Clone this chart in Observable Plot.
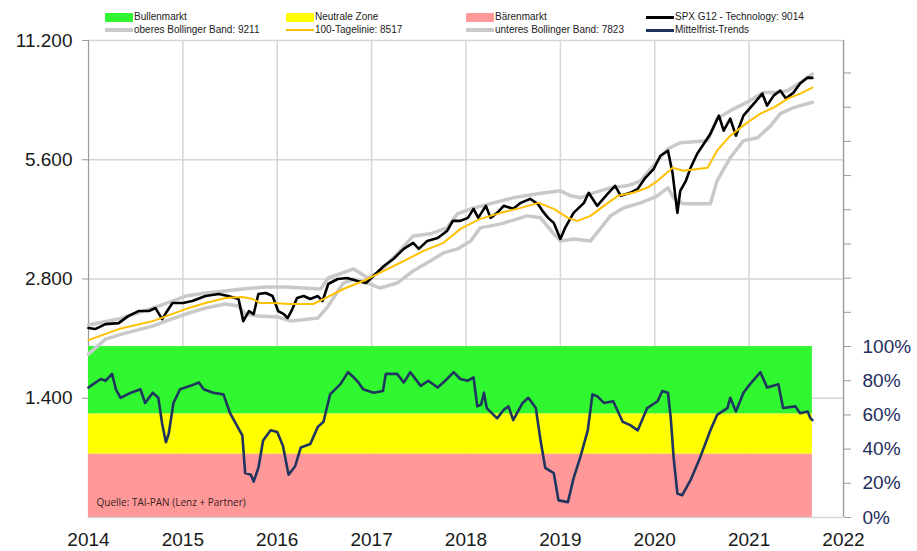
<!DOCTYPE html>
<html>
<head>
<meta charset="utf-8">
<script src="https://cdn.jsdelivr.net/npm/d3@7"></script>
<script src="https://cdn.jsdelivr.net/npm/@observablehq/plot@0.6"></script>
<style>
  body { margin: 0; background: #fff; }
  #wrap { position: relative; width: 917px; height: 551px; overflow: hidden; font-family: "Liberation Sans", Arial, sans-serif; }
  .layer { position: absolute; left: 0; top: 0; }
  .layer svg { background: transparent !important; }
  .leg { position: absolute; font-size: 10px; color: #222; white-space: nowrap; line-height: 12px; }
  .sw { position: absolute; }
</style>
</head>
<body>
<div id="wrap"></div>
<script>
// ---------- data ----------
const years = [2014, 2015, 2016, 2017, 2018, 2019, 2020, 2021, 2022];
const priceTicks = [1400, 2800, 5600, 11200];
const pctTicks = [0, 20, 40, 60, 80, 100, 120, 140, 160, 180, 200, 220, 240, 260];

// SPX G12 - Technology (decimal year, index value)
const priceT = [2014.00,2014.07,2014.18,2014.32,2014.42,2014.53,2014.64,2014.71,2014.78,2014.82,2014.89,2015.00,2015.10,2015.24,2015.38,2015.48,2015.59,2015.64,2015.70,2015.75,2015.80,2015.88,2015.95,2016.01,2016.07,2016.11,2016.16,2016.21,2016.28,2016.35,2016.43,2016.48,2016.54,2016.64,2016.74,2016.85,2016.94,2017.02,2017.13,2017.23,2017.34,2017.44,2017.50,2017.59,2017.70,2017.80,2017.86,2017.94,2018.02,2018.08,2018.13,2018.21,2018.26,2018.33,2018.40,2018.50,2018.58,2018.68,2018.76,2018.81,2018.87,2018.93,2019.00,2019.05,2019.14,2019.25,2019.30,2019.39,2019.50,2019.58,2019.64,2019.74,2019.82,2019.90,2019.99,2020.06,2020.14,2020.19,2020.22,2020.24,2020.27,2020.33,2020.38,2020.45,2020.52,2020.59,2020.68,2020.73,2020.80,2020.86,2020.94,2021.05,2021.14,2021.19,2021.26,2021.33,2021.39,2021.47,2021.54,2021.62,2021.67];
const priceV = [2105,2093,2154,2167,2257,2324,2324,2365,2218,2297,2435,2435,2463,2536,2566,2536,2492,2192,2324,2284,2566,2581,2536,2324,2284,2231,2351,2507,2536,2492,2536,2463,2720,2800,2816,2767,2735,2849,3020,3146,3335,3453,3335,3494,3555,3703,3925,3925,3995,4210,3995,4284,3995,4113,4284,4210,4359,4462,4334,4161,3995,3880,3535,3769,4113,4359,4621,4284,4594,4813,4541,4621,4730,5043,5314,5732,5902,5161,4488,4113,4675,4955,5345,5800,6147,6516,7236,6631,7111,6440,7236,7760,8225,7670,8130,8371,7990,8273,8719,9028,9014];

// oberes Bollinger Band
const upperT = [2014.00,2014.32,2014.68,2014.89,2015.03,2015.24,2015.45,2015.63,2015.74,2015.88,2016.09,2016.46,2016.54,2016.81,2016.96,2017.09,2017.27,2017.44,2017.62,2017.80,2017.91,2018.05,2018.29,2018.50,2018.76,2019.00,2019.11,2019.21,2019.35,2019.53,2019.71,2019.85,2020.03,2020.14,2020.27,2020.56,2020.66,2020.80,2021.01,2021.15,2021.30,2021.41,2021.54,2021.67];
const upperV = [2142,2218,2365,2463,2536,2581,2611,2642,2657,2672,2672,2642,2816,2968,2816,2933,3239,3597,3640,3769,4089,4210,4359,4488,4594,4675,4541,4488,4621,4757,4813,4955,5568,5971,6183,6256,7111,7450,7897,8273,8273,8371,8769,9211];

// 100-Tagelinie
const maT = [2014.00,2014.32,2014.68,2015.03,2015.24,2015.45,2015.63,2015.74,2015.82,2015.95,2016.14,2016.38,2016.49,2016.70,2016.91,2017.06,2017.34,2017.55,2017.76,2017.94,2018.15,2018.37,2018.58,2018.77,2018.93,2019.08,2019.18,2019.32,2019.46,2019.61,2019.77,2019.92,2020.03,2020.19,2020.30,2020.56,2020.66,2020.80,2020.98,2021.12,2021.26,2021.41,2021.54,2021.67];
const maV = [1963,2093,2192,2351,2435,2507,2521,2492,2435,2435,2421,2421,2492,2642,2767,2882,3109,3296,3453,3747,3971,4113,4234,4359,4210,3995,3925,4041,4284,4541,4621,4757,4955,5345,5252,5345,5902,6440,6947,7321,7581,7990,8225,8517];

// unteres Bollinger Band
const lowerT = [2014.00,2014.18,2014.39,2014.68,2014.82,2015.03,2015.24,2015.45,2015.59,2015.66,2015.80,2016.01,2016.14,2016.43,2016.54,2016.70,2016.81,2016.96,2017.09,2017.27,2017.44,2017.62,2017.76,2017.91,2018.05,2018.15,2018.37,2018.65,2018.79,2018.93,2019.00,2019.14,2019.32,2019.43,2019.53,2019.67,2019.85,2020.01,2020.14,2020.20,2020.30,2020.59,2020.66,2020.80,2020.94,2021.09,2021.23,2021.33,2021.47,2021.67];
const lowerV = [1809,1974,2044,2129,2192,2284,2365,2421,2393,2284,2257,2244,2192,2231,2393,2735,2800,2735,2657,2735,2933,3109,3258,3335,3494,3769,3857,4041,3995,3640,3494,3535,3494,3769,4041,4234,4359,4515,4757,4488,4334,4334,4955,5666,6256,6366,6827,7321,7581,7823];

// Mittelfrist-Trends (percent)
const trendT = [2014.00,2014.05,2014.13,2014.18,2014.25,2014.29,2014.34,2014.45,2014.55,2014.60,2014.68,2014.74,2014.78,2014.82,2014.85,2014.90,2014.97,2015.08,2015.17,2015.22,2015.32,2015.43,2015.50,2015.58,2015.63,2015.66,2015.72,2015.75,2015.80,2015.85,2015.93,2016.00,2016.06,2016.12,2016.19,2016.25,2016.35,2016.43,2016.49,2016.56,2016.67,2016.75,2016.81,2016.86,2016.91,2017.02,2017.12,2017.15,2017.27,2017.34,2017.41,2017.52,2017.60,2017.70,2017.78,2017.87,2017.94,2018.02,2018.08,2018.12,2018.16,2018.19,2018.22,2018.33,2018.40,2018.45,2018.50,2018.60,2018.66,2018.74,2018.79,2018.84,2018.93,2018.98,2019.08,2019.14,2019.21,2019.29,2019.34,2019.39,2019.46,2019.56,2019.66,2019.74,2019.82,2019.92,2020.03,2020.08,2020.14,2020.17,2020.20,2020.24,2020.29,2020.38,2020.48,2020.59,2020.66,2020.77,2020.80,2020.86,2020.94,2021.01,2021.12,2021.19,2021.31,2021.36,2021.49,2021.54,2021.62,2021.65,2021.67];
const trendP = [76,78,81,80,84,75,70,73,75,67,73,70,55,44,49,67,75,77,79,75,73,72,61,53,48,26,25,21,29,45,51,50,42,25,30,41,43,53,56,72,78,85,82,79,75,73,74,84,84,79,85,77,80,76,80,85,81,80,82,65,66,73,64,58,63,65,57,67,70,64,45,29,26,10,9,23,35,51,72,71,67,68,56,54,51,64,68,74,73,58,35,14,13,22,35,51,60,64,70,62,73,78,85,76,78,64,65,61,62,58,57];

// market zones (percent ranges)
const zoneNames = ["Bullenmarkt", "Neutrale Zone", "Bärenmarkt"];
const zoneLo = [60.5, 37, 0];
const zoneHi = [100, 60.5, 37];

// ---------- styles ----------
const zoneFill = {"Bullenmarkt": "#30f730", "Neutrale Zone": "#ffff00", "Bärenmarkt": "#ff9999"};
const C = {price: "#000000", band: "#c9c9c9", ma: "#ffc000", trend: "#1f3560", grid: "#d6d6d6", axis: "#9a9a9a"};
const FONT = '"Liberation Sans", Arial, sans-serif';

const zip = (t, v) => t.map((d, i) => ({t: d, v: v[i]}));
const price = zip(priceT, priceV), upper = zip(upperT, upperV), ma = zip(maT, maV),
      lower = zip(lowerT, lowerV), trend = zip(trendT, trendP);
const zones = zoneNames.map((n, i) => ({name: n, lo: zoneLo[i], hi: zoneHi[i], t1: trendT[0], t2: trendT[trendT.length - 1]}));

const de = d3.formatLocale({decimal: ",", thousands: ".", grouping: [3], currency: ["", "€"]}).format(",");

const dims = {width: 917, height: 551, marginLeft: 88, marginRight: 74, marginTop: 40, marginBottom: 34};
const xs = {type: "linear", domain: [2014, 2022]};
const wrap = document.getElementById("wrap");
function addLayer(fig) { const d = document.createElement("div"); d.className = "layer"; d.appendChild(fig); wrap.appendChild(d); }

// Layer 1: grid + left/bottom axes
addLayer(Plot.plot({
  ...dims, x: xs, y: {type: "log", domain: [700, 11200]},
  style: {fontFamily: FONT, fontSize: "19px", background: "transparent", overflow: "visible"},
  marks: [
    Plot.ruleX(years.slice(1), {stroke: C.grid, strokeWidth: 1.5}),
    Plot.ruleY(priceTicks, {stroke: C.grid, strokeWidth: 1.5}),
    Plot.ruleY([700], {stroke: C.grid, strokeWidth: 1.5}),
    Plot.ruleX([2014], {stroke: C.axis, strokeWidth: 1.2}),
    Plot.axisY({ticks: priceTicks, tickFormat: de, tickSize: 6, tickPadding: 10, stroke: C.axis, fill: "#1a1a1a", label: null}),
    Plot.axisX({ticks: years, tickFormat: d => String(d), tickSize: 0, tickPadding: 15, fill: "#1a1a1a", label: null})
  ]
}));

// Layer 2: zones + trend + right axis
addLayer(Plot.plot({
  ...dims, x: {...xs, axis: null}, y: {type: "linear", domain: [0, 279]},
  style: {fontFamily: FONT, fontSize: "19px", background: "transparent", overflow: "visible"},
  marks: [
    Plot.rect(zones, {x1: "t1", x2: "t2", y1: "lo", y2: "hi", fill: d => zoneFill[d.name]}),
    Plot.line(trend, {x: "t", y: "v", stroke: C.trend, strokeWidth: 2.6, curve: "linear"}),
    Plot.ruleX([2022], {stroke: C.axis, strokeWidth: 1.2}),
    Plot.axisY({anchor: "right", ticks: pctTicks, tickFormat: d => d <= 100 ? d + "%" : "", tickSize: 7, tickPadding: 12, stroke: C.axis, fill: "#1f2d5c", label: null}),
    Plot.text(["Quelle: TAI-PAN (Lenz + Partner)"], {frameAnchor: "bottom-left", dx: 8, dy: -12, fontSize: 10, fill: "#3a2020", fontFamily: '"Open Sans", sans-serif', textAnchor: "start"})
  ]
}));

// Layer 3: price, bands, moving average
addLayer(Plot.plot({
  ...dims, x: {...xs, axis: null}, y: {type: "log", domain: [700, 11200], axis: null},
  style: {fontFamily: FONT, background: "transparent", overflow: "visible"},
  marks: [
    Plot.line(upper, {x: "t", y: "v", stroke: C.band, strokeWidth: 3.5}),
    Plot.line(lower, {x: "t", y: "v", stroke: C.band, strokeWidth: 3.5}),
    Plot.line(price, {x: "t", y: "v", stroke: C.price, strokeWidth: 2.6}),
    Plot.line(ma, {x: "t", y: "v", stroke: C.ma, strokeWidth: 2})
  ]
}));

// Legend (HTML)
const last = a => a[a.length - 1];
const legendItems = [
  {label: zoneNames[0], type: "rect", color: zoneFill[zoneNames[0]], col: 0, row: 0},
  {label: zoneNames[1], type: "rect", color: zoneFill[zoneNames[1]], col: 1, row: 0},
  {label: zoneNames[2], type: "rect", color: zoneFill[zoneNames[2]], col: 2, row: 0},
  {label: "SPX G12 - Technology: " + last(priceV), type: "line", color: C.price, w: 3, col: 3, row: 0},
  {label: "oberes Bollinger Band: " + last(upperV), type: "line", color: C.band, w: 4, col: 0, row: 1},
  {label: "100-Tagelinie: " + last(maV), type: "line", color: C.ma, w: 2, col: 1, row: 1},
  {label: "unteres Bollinger Band: " + last(lowerV), type: "line", color: C.band, w: 4, col: 2, row: 1},
  {label: "Mittelfrist-Trends", type: "line", color: C.trend, w: 3, col: 3, row: 1}
];
const colX = [105, 286, 466, 646];
const rowY = [17, 30];
legendItems.forEach(it => {
  const sw = document.createElement("div");
  sw.className = "sw";
  const x = colX[it.col], y = rowY[it.row];
  const h = it.type === "rect" ? 9 : it.w;
  sw.style.cssText = `left:${x}px;top:${y - h / 2}px;width:28px;height:${h}px;background:${it.color};` + (it.type === "rect" ? "border-radius:1px;" : "");
  wrap.appendChild(sw);
  const t = document.createElement("div");
  t.className = "leg";
  t.textContent = it.label;
  t.style.left = (x + 29) + "px";
  t.style.top = (y - 6) + "px";
  wrap.appendChild(t);
});
</script>
</body>
</html>
